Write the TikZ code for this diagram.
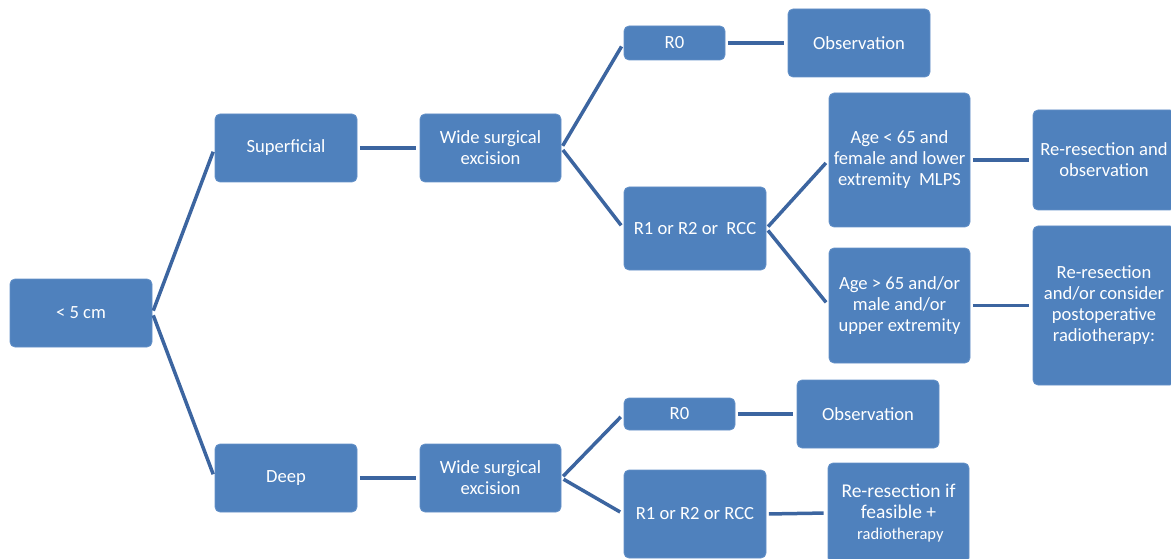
\documentclass[tikz,border=0pt]{standalone}
\usepackage{fontspec}
\setmainfont{Carlito}
\definecolor{boxblue}{RGB}{79,129,189}
\definecolor{boxedge}{RGB}{100,145,200}
\definecolor{lineblue}{RGB}{60,101,160}
\begin{document}
\begin{tikzpicture}[x=1pt,y=-1pt,
  box/.style={fill=boxblue, draw=boxedge, line width=0.8pt, rounded corners=5pt,
    text=white, align=center, font=\fontsize{18.6}{21}\selectfont, inner sep=0pt},
  conn/.style={draw=lineblue, line width=3.5pt, shorten <=2.5pt, shorten >=4pt}]
\useasboundingbox (0,0) rectangle (1171,559);
\clip (0,0) rectangle (1171,559);
% column 1
\node[box, minimum width=142, minimum height=68] (lt5) at (81,313) {< 5 cm};
% column 2
\node[box, minimum width=142, minimum height=68] (sup) at (286,148) {Superficial};
\node[box, minimum width=142, minimum height=68] (deep) at (286,478) {Deep};
% column 3
\node[box, minimum width=141, minimum height=68] (wse1) at (490.5,148) {Wide surgical\\excision};
\node[box, minimum width=141, minimum height=68] (wse2) at (490.5,478) {Wide surgical\\excision};
% column 4
\node[box, minimum width=101, minimum height=34] (r0a) at (674.5,43) {R0};
\node[box, minimum width=142, minimum height=83] (r1a) at (695,228.5) {R1 or R2 or\ \ RCC};
\node[box, minimum width=111, minimum height=32] (r0b) at (679.5,414) {R0};
\node[box, minimum width=142, minimum height=88] (r1b) at (695,514) {R1 or R2 or RCC};
% column 5
\node[box, minimum width=142, minimum height=68] (obs1) at (859,43) {Observation};
\node[box, minimum width=141, minimum height=134] (age1) at (899.5,160) {Age < 65 and\\female and lower\\extremity\ \ MLPS};
\node[box, minimum width=141, minimum height=115] (age2) at (899.5,305.5) {Age > 65 and/or\\male and/or\\upper extremity};
\node[box, minimum width=142, minimum height=68] (obs2) at (868,414) {Observation};
\node[box, minimum width=141, minimum height=100] (rrf) at (898.5,513) {\fontsize{19.5}{21}\selectfont Re-resection if\\\fontsize{19.5}{21}\selectfont feasible +\\\fontsize{16.5}{21}\selectfont\ radiotherapy};
% column 6
\node[box, minimum width=142, minimum height=100] (rr1) at (1104,160) {Re-resection and\\observation};
\node[box, minimum width=142, minimum height=159] (rr2) at (1104,305.5) {Re-resection\\and/or consider\\postoperative\\radiotherapy:};
% connectors
\draw[conn] (lt5.east) -- (sup.west);
\draw[conn] (lt5.east) -- (deep.west);
\draw[conn] (sup.east) -- (wse1.west);
\draw[conn] (deep.east) -- (wse2.west);
\draw[conn] (wse1.east) -- (r0a.west);
\draw[conn] (wse1.east) -- (r1a.west);
\draw[conn] (wse2.east) -- (r0b.west);
\draw[conn] (wse2.east) -- (r1b.west);
\draw[conn] (r0a.east) -- (obs1.west);
\draw[conn] (r1a.east) -- (age1.west);
\draw[conn] (r1a.east) -- (age2.west);
\draw[conn] (r0b.east) -- (obs2.west);
\draw[conn] (r1b.east) -- (rrf.west);
\draw[conn] (age1.east) -- (rr1.west);
\draw[conn] (age2.east) -- (rr2.west);
\end{tikzpicture}
\end{document}
